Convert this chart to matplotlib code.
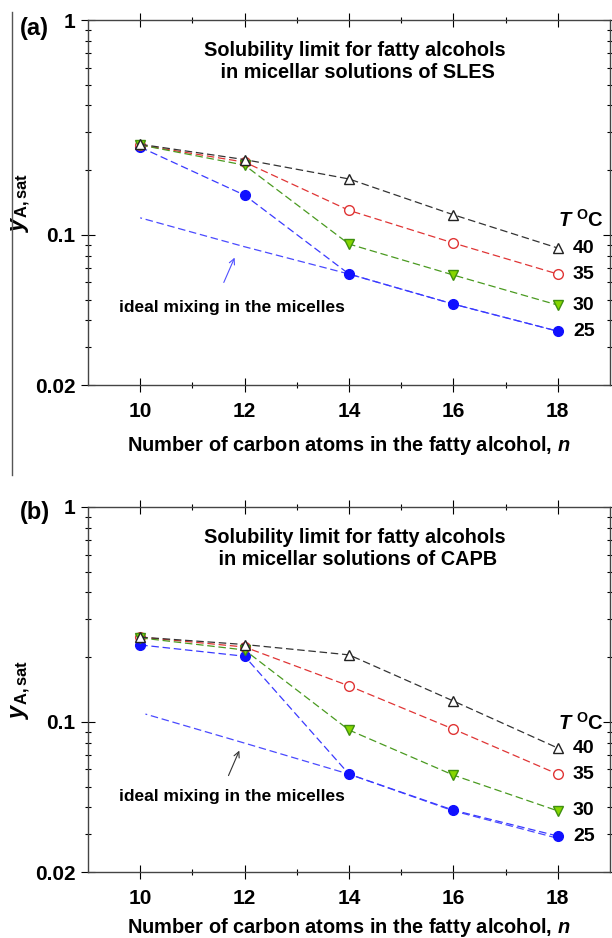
import matplotlib
matplotlib.use("Agg")
import matplotlib.pyplot as plt
from matplotlib.lines import Line2D
from matplotlib.ticker import FixedLocator, NullFormatter

plt.rcParams['font.family'] = ['Liberation Sans', 'DejaVu Sans']
plt.rcParams['font.weight'] = 'bold'
plt.rcParams['mathtext.fontset'] = 'custom'
plt.rcParams['mathtext.rm'] = 'Liberation Sans:bold'
plt.rcParams['mathtext.bf'] = 'Liberation Sans:bold'
plt.rcParams['mathtext.it'] = 'Liberation Sans:italic:bold'

# carbon number of the fatty alcohol
n = [10, 12, 14, 16, 18]
temps = ["25", "30", "35", "40"]

# panel (a): SLES
sles = {
    "25": [0.256, 0.153, 0.0657, 0.0476, 0.0356],
    "30": [0.262, 0.211, 0.0906, 0.065, 0.0471],
    "35": [0.262, 0.218, 0.130, 0.0916, 0.0657],
    "40": [0.264, 0.224, 0.182, 0.124, 0.0868],
}
sles_ideal = [0.120, 0.088, 0.0657, 0.0476, 0.0356]

# panel (b): CAPB
capb = {
    "25": [0.228, 0.202, 0.0571, 0.0388, 0.0294],
    "30": [0.246, 0.216, 0.0916, 0.0565, 0.0385],
    "35": [0.248, 0.223, 0.147, 0.0925, 0.0571],
    "40": [0.248, 0.229, 0.205, 0.125, 0.0755],
}
capb_ideal = [0.1087, 0.0796, 0.0571, 0.0385, 0.0287]
capb_ideal_n = [10.1, 12, 14, 16, 18]

styles = {
    "25": dict(color="#3a3aff", marker="o", mfc="#1010ff", mec="#1010ff", ms=7, z=1),
    "30": dict(color="#4a9a20", marker="v", mfc="#86d600", mec="#3f8f10", ms=7, z=3),
    "35": dict(color="#e03535", marker="o", mfc="white", mec="#e03535", ms=7, z=2),
    "40": dict(color="#333333", marker="^", mfc="white", mec="#222222", ms=6.5, z=4),
}

fig = plt.figure(figsize=(6.12, 9.38), dpi=100)
ax_a = fig.add_axes([88 / 612, 1 - 385 / 938, 522 / 612, 365 / 938])
ax_b = fig.add_axes([88 / 612, 1 - 872 / 938, 522 / 612, 365 / 938])

panels = [
    (ax_a, sles, sles_ideal, n, "SLES", "#5050ff",
     ((11.58, 0.0584), (11.83, 0.0805)), 0.0461, 0.117, -0.135),
    (ax_b, capb, capb_ideal, capb_ideal_n, "CAPB", "#333333",
     ((11.67, 0.0547), (11.92, 0.0755)), 0.0447, 0.0987, -0.12),
]

for ax, data, ideal, ideal_n, surf, arrow_col, arrow, txt_y, tc_y, xlab_y in panels:
    # ideal mixing curve
    ax.plot(ideal_n, ideal, color="#4a4aff", lw=0.9, ls=(4.5, (6, 3)), zorder=1)
    for t in temps:
        s = styles[t]
        ax.plot(n, data[t], color=s["color"], lw=0.9, ls=(0, (6, 3)),
                marker=s["marker"], mfc=s["mfc"], mec=s["mec"], mew=1.0,
                ms=s["ms"], zorder=s["z"] + 1)
        ax.text(18.29, data[t][-1], t, fontsize=14, fontweight="bold",
                ha="left", va="center")

    ax.text(18.44, tc_y, r"$\mathit{T}$ $^{\mathrm{O}}$C", fontsize=14.5,
            ha="center", va="center")

    ax.annotate("", xy=arrow[1], xytext=arrow[0],
                arrowprops=dict(arrowstyle="->", color=arrow_col, lw=0.8))
    ax.text(11.75, txt_y, "ideal mixing in the micelles", fontsize=12.5,
            fontweight="bold", ha="center", va="center")

    ax.text(0.512, 0.885, "Solubility limit for fatty alcohols\n in micellar solutions of " + surf,
            transform=ax.transAxes, fontsize=14.3, fontweight="bold",
            ha="center", va="center", linespacing=1.2)

    ax.set_yscale("log")
    ax.set_ylim(0.02, 1)
    ax.set_xlim(9, 19)
    ax.yaxis.set_major_locator(FixedLocator([0.02, 0.1, 1]))
    ax.set_yticklabels(["0.02", "0.1", "1"])
    ax.yaxis.set_minor_locator(FixedLocator([0.03, 0.04, 0.05, 0.06, 0.07, 0.08, 0.09,
                                             0.2, 0.3, 0.4, 0.5, 0.6, 0.7, 0.8, 0.9]))
    ax.yaxis.set_minor_formatter(NullFormatter())
    ax.set_xticks([10, 12, 14, 16, 18])
    ax.set_xticks([11, 13, 15, 17], minor=True)
    ax.tick_params(which="both", direction="inout", top=True, right=True,
                   labelsize=15, width=0.8)
    ax.tick_params(which="major", length=10)
    ax.tick_params(which="minor", length=5)
    ax.tick_params(axis="x", pad=7)
    ax.tick_params(axis="y", pad=4)
    for lab in ax.get_xticklabels() + ax.get_yticklabels():
        lab.set_fontweight("bold")
    for sp in ax.spines.values():
        sp.set_color("#444444")
        sp.set_linewidth(1.0)

    ax.set_xlabel(r"Number of carbon atoms in the fatty alcohol, $\mathit{n}$",
                  fontsize=14.4, fontweight="bold")
    ax.xaxis.set_label_coords(0.5, xlab_y)
    ax.set_ylabel(r"$\mathit{y}_{\mathrm{A,sat}}$", fontsize=17)
    ax.yaxis.set_label_coords(-0.105, 0.5)

fig.text(20 / 612, 1 - 28 / 938, "(a)", fontsize=17, fontweight="bold", va="center")
fig.text(20 / 612, 1 - 512 / 938, "(b)", fontsize=17, fontweight="bold", va="center")
fig.add_artist(Line2D([12 / 612, 12 / 612], [1 - 12 / 938, 1 - 475 / 938],
                      color="#555555", lw=1.0))

fig.savefig("out.png", dpi=100)
